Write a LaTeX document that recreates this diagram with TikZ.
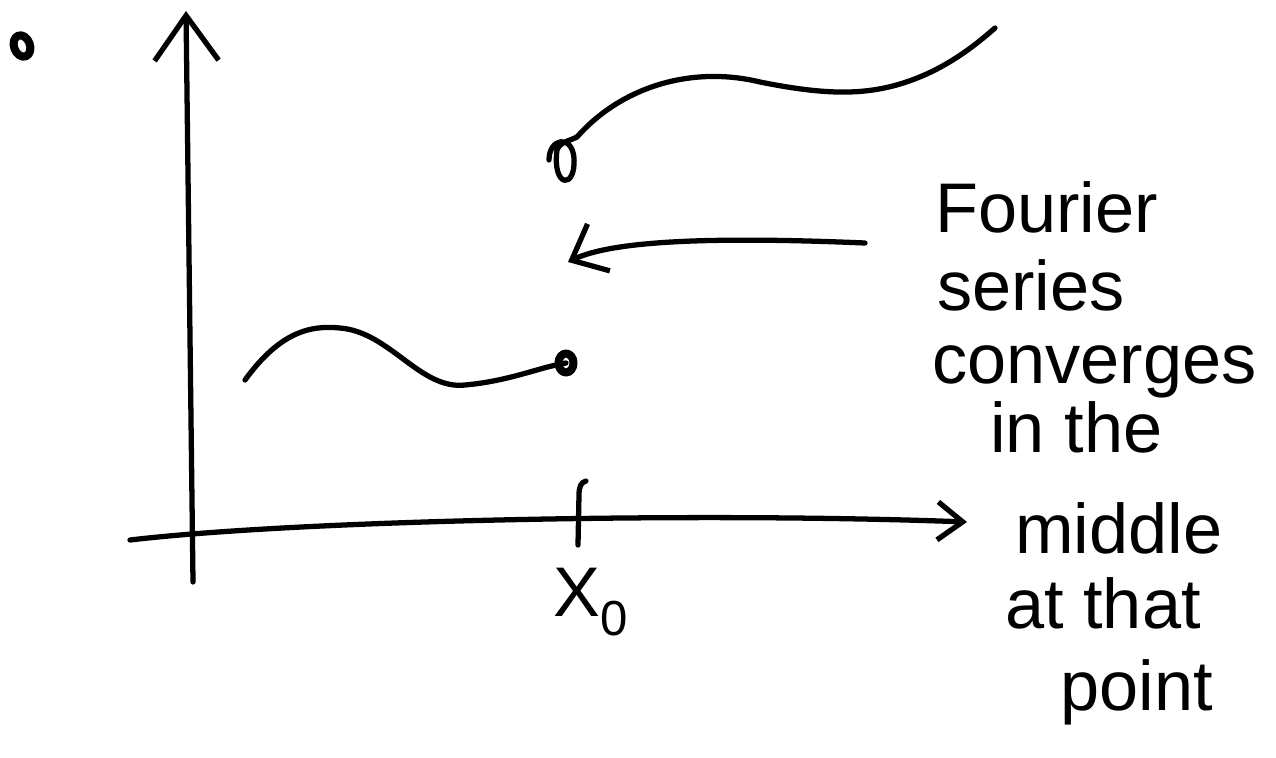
\documentclass[tikz,border=0pt]{standalone}
\usepackage{fontspec}
\setmainfont{Liberation Sans}
\usetikzlibrary{arrows.meta, positioning, calc}
\definecolor{inkblack}{RGB}{0,0,0}

\begin{document}
\begin{tikzpicture}[x=0.02cm, y=-0.02cm,
    pen/.style={draw=inkblack, line width=3pt, line cap=round, line join=round},
    axisarr/.style={pen, -{Straight Barb[length=0.5cm, width=0.76cm, line width=3pt]}},
    yarr/.style={pen, -{Straight Barb[length=0.9cm, width=1.28cm, line width=3pt]}},
    backarr/.style={pen, -{Straight Barb[length=0.6cm, width=1.04cm, line width=3pt]}},
    hand/.style={font=\fontsize{40}{44}\selectfont, anchor=base west, inner sep=0pt},
    dotring/.style={pen, line width=4.6pt}
  ]
    \useasboundingbox (0,0) rectangle (1276,758);

    % axes
    \coordinate (xs) at (130,540);
    \coordinate (xe) at (967,522);
    \coordinate (ys) at (193,582);
    \coordinate (ye) at (186,11);
    \draw[axisarr] (xs) .. controls (300,520) and (700,512) .. (xe);
    \draw[yarr] (ys) -- (ye);

    % tick at x0
    \coordinate (tb) at (578,545);
    \coordinate (tt) at (586,481);
    \draw[pen] (tb) -- (579,495) .. controls (579,487) and (581,482) .. (tt);
    \node[hand] (xlab) at (553,616) {X\textsubscript{0}};

    % stray mark
    \draw[dotring, rotate around={20:(22,46)}] (22,46) ellipse (0.16cm and 0.22cm);

    % left piece
    \coordinate (la) at (245,380);
    \coordinate (lb) at (566,363);
    \draw[pen] (la) .. controls (280,332) and (310,325) .. (340,328)
               .. controls (390,332) and (420,390) .. (465,385)
               .. controls (510,381) and (540,367) .. (lb);
    \draw[dotring] (lb) ellipse (0.15cm and 0.19cm);

    % right piece
    \coordinate (ra) at (577,137);
    \coordinate (rb) at (995,28);
    \draw[pen] (549,160) .. controls (549,138) and (572,134) .. (574,158)
               .. controls (576,190) and (552,188) .. (557,150)
               .. controls (560,142) and (569,141) .. (ra);
    \draw[pen] (ra) .. controls (620,88) and (690,65) .. (760,82)
               .. controls (820,94) and (860,96) .. (900,84)
               .. controls (940,72) and (970,50) .. (rb);

    % arrow to the jump
    \coordinate (as) at (865,243);
    \coordinate (ae) at (568,262);
    \draw[backarr] (as) .. controls (700,236) and (610,242) .. (ae);

    % note
    \node[hand] (l1) at (935,232) {Fourier};
    \node[hand] (l2) at (937,310) {series};
    \node[hand] (l3) at (932,383) {converges};
    \node[hand] (l4) at (990,452) {in the};
    \node[hand] (l5) at (1015,553) {middle};
    \node[hand] (l6) at (1005,628) {at that};
    \node[hand] (l7) at (1060,710) {point};
  \end{tikzpicture}
\end{document}
